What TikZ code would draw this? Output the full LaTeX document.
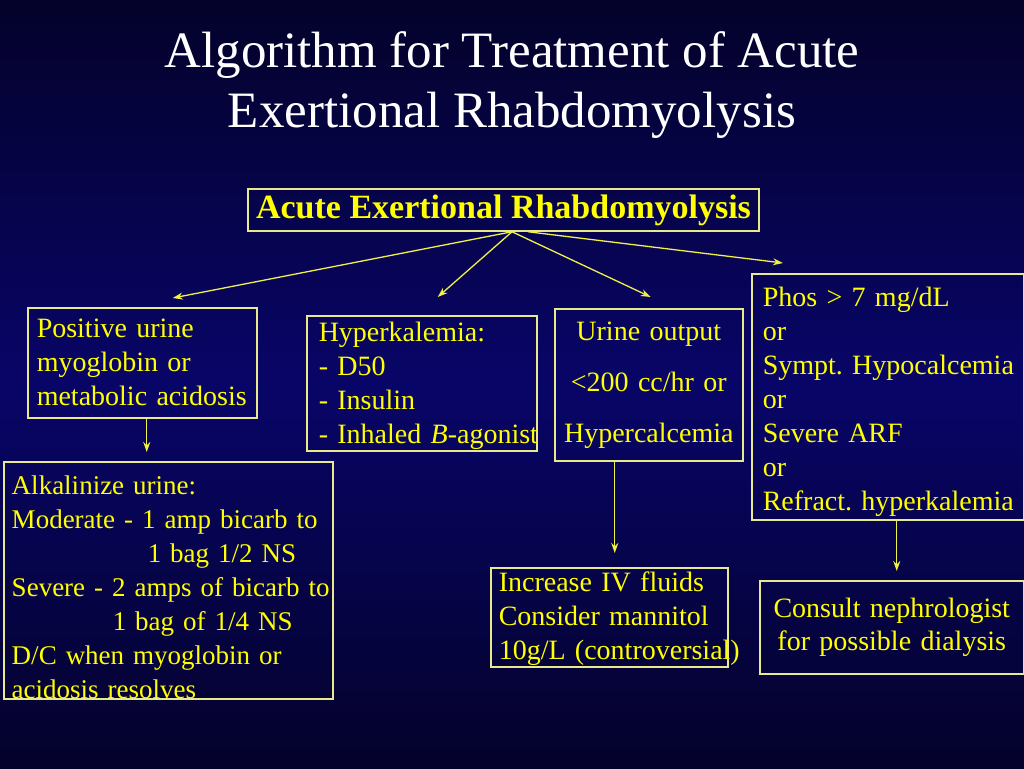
\documentclass[tikz,border=0pt]{standalone}
\usepackage{fontspec}
\setmainfont{Liberation Serif}
\usetikzlibrary{arrows.meta}
\definecolor{bgdark}{RGB}{4,2,42}
\definecolor{bgmid}{RGB}{8,5,104}
\definecolor{boxline}{RGB}{232,232,140}
\definecolor{txtyel}{RGB}{255,255,0}
\definecolor{arryel}{RGB}{240,240,70}
\frenchspacing
\begin{document}
\begin{tikzpicture}[x=1pt, y=-1pt,
    stepbox/.style={draw=boxline, line width=1.5pt, text=txtyel, align=left, inner ysep=0pt, anchor=north west,
        font=\fontsize{28}{34}\selectfont},
    arr/.style={draw=arryel, line width=1.3pt, -{Stealth[length=10pt,width=7pt]}}]

    % Background: dark at top and bottom, brighter blue in the middle
    \begin{scope}[y=1pt]
        \shade[top color=bgdark, bottom color=bgdark, middle color=bgmid] (0,0) rectangle (1024,-768);
    \end{scope}
    \useasboundingbox (0,0) rectangle (1024,768);

    % Title
    \node[text=white, align=center, font=\fontsize{51}{60}\selectfont] (Title) at (512,85)
        {Algorithm for Treatment of Acute\\Exertional Rhabdomyolysis};

    % Top box
    \node[draw=boxline, line width=1.5pt, text=txtyel, inner sep=0pt, minimum width=511pt, minimum height=42pt,
        font=\fontsize{34}{38}\selectfont\bfseries] (Top) at (503.5,210) {Acute Exertional Rhabdomyolysis};

    % Second row of boxes
    \node[stepbox, inner xsep=9pt, text width=211pt, minimum height=110pt] (Myo) at (27,307)
        {Positive urine\\myoglobin or\\\mbox{metabolic acidosis}};
    \node[stepbox, inner xsep=12pt, text width=206pt, minimum height=135pt] (Hyper) at (306,315)
        {\rule{0pt}{25pt}Hyperkalemia:\\- D50\\- Insulin\\\mbox{- Inhaled \textit{B}-agonist}};
    \node[stepbox, align=center, inner xsep=6pt, text width=176pt, minimum height=152pt,
        font=\fontsize{28}{51}\selectfont] (Urine) at (554,308)
        {Urine output\\<200 cc/hr or\\Hypercalcemia};
    \node[stepbox, inner xsep=11pt, text width=250pt, minimum height=246pt] (Phos) at (751,273)
        {\rule{0pt}{29pt}Phos > 7 mg/dL\\or\\\mbox{Sympt. Hypocalcemia}\\or\\Severe ARF\\or\\\mbox{Refract. hyperkalemia}};

    % Third row of boxes
    \node[stepbox, inner xsep=8pt, text width=313pt, minimum height=237pt, font=\fontsize{27}{34}\selectfont] (Alk) at (3,461)
        {\rule{0pt}{33pt}Alkalinize urine:\\\mbox{Moderate - 1 amp bicarb to}\\\hspace*{136pt}1 bag 1/2 NS\\
         \mbox{Severe - 2 amps of bicarb to}\\\hspace*{101pt}1 bag of 1/4 NS\\D/C when myoglobin or\\acidosis resolves};
    \node[stepbox, inner xsep=8pt, text width=221pt, minimum height=99pt] (Fluids) at (490,567)
        {\rule{0pt}{23pt}Increase IV fluids\\Consider mannitol\\\mbox{10g/L (controversial)}};
    \node[stepbox, align=center, inner xsep=6pt, text width=252pt, minimum height=93pt,
        font=\fontsize{28}{33}\selectfont] (Neph) at (759,580)
        {Consult nephrologist\\for possible dialysis};

    % Where the arrows leave the top box
    \coordinate (Hub) at ([xshift=8.5pt]Top.south);
    \coordinate (HubR) at ([xshift=24.5pt]Top.south);

    % Arrows from the top box
    \draw[arr] (Hub) -- ([shift={(30.5,-9)}]Myo.north);
    \draw[arr] (Hub) -- ([shift={(16,-18)}]Hyper.north);
    \draw[arr] (Hub) -- ([shift={(2,-11)}]Urine.north);
    \draw[arr] (HubR) -- ([shift={(32,-10)}]Phos.north west);

    % Downward arrows
    \draw[arr, shorten >=9pt] ([xshift=4.5pt]Myo.south) -- ([xshift=4.5pt]Myo.south |- Alk.north);
    \draw[arr, shorten >=14pt] ([xshift=-34pt]Urine.south) -- ([xshift=-34pt]Urine.south |- Fluids.north);
    \draw[arr, shorten >=9pt] ([xshift=9pt]Phos.south) -- ([xshift=9pt]Phos.south |- Neph.north);

\end{tikzpicture}
\end{document}
